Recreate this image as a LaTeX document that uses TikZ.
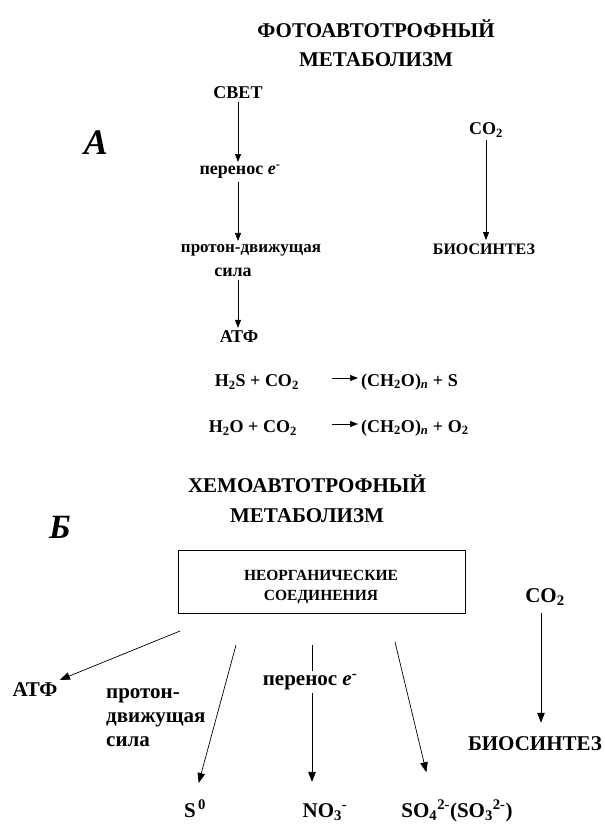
\documentclass[tikz,border=0pt]{standalone}
\usepackage{fontspec}
\setmainfont{Liberation Serif}
\usetikzlibrary{arrows.meta}
\newcommand{\fsz}[1]{\fontsize{#1}{#1}\selectfont\bfseries}
\newcommand{\dn}[1]{\textsubscript{#1}}
\newcommand{\up}[1]{\textsuperscript{#1}}

\begin{document}
\begin{tikzpicture}[x=1pt,y=-1pt,
	lbl/.style={font=\fsz{18}, inner sep=3pt},
	lbb/.style={font=\fsz{21}, inner sep=3pt},
	ttl/.style={font=\fsz{21}},
	arr/.style={-{Triangle[length=8pt,width=6pt]}, line width=0.7pt},
	arb/.style={-{Triangle[length=10pt,width=7.5pt]}, line width=0.7pt}]
	\useasboundingbox (0,0) rectangle (605,825);

	% фотоавтотрофный метаболизм
	\node[ttl] (t1) at (376,29) {ФОТОАВТОТРОФНЫЙ};
	\node[ttl] (t2) at (376,60) {МЕТАБОЛИЗМ};
	\node[font=\fsz{36}\itshape] (la) at (96,143) {А};
	\node[lbl] (svet) at (238,93) {СВЕТ};
	\node[lbl] (pe1) at (240,172) {перенос \textit{e}\up{-}};
	\node[lbl, font=\fsz{17}] (pd1) at (251,250) {протон-движущая};
	\node[lbl] (sila1) at (233,272) {сила};
	\node[lbl] (atf1) at (239,337) {АТФ};
	\draw[arr] (svet.south) -- (svet.south |- pe1.north);
	\draw[arr] (svet.south |- pe1.south) -- (svet.south |- pd1.north);
	\draw[arr] (svet.south |- sila1.south) -- (svet.south |- atf1.north);

	\node[lbl] (co2a) at (486,130) {CO\dn{2}};
	\node[font=\fsz{16}] (bio1) at (484,249) {БИОСИНТЕЗ};
	\draw[arr] (co2a) -- (co2a |- bio1.north);

	\node[lbl, anchor=east] (r1l) at (302,382) {H\dn{2}S + CO\dn{2}};
	\node[lbl, anchor=west] (r1r) at (358,382) {(CH\dn{2}O)\dn{\textit{n}} + S};
	\node[lbl, anchor=east] (r2l) at (300,428) {H\dn{2}O + CO\dn{2}};
	\node[lbl, anchor=west] (r2r) at (358,428) {(CH\dn{2}O)\dn{\textit{n}} + O\dn{2}};
	\draw[arr] ([xshift=30pt,yshift=4pt]r1l.east) -- ([yshift=4pt]r1r.west);
	\draw[arr] ([xshift=32pt,yshift=4pt]r2l.east) -- ([yshift=4pt]r2r.west);

	% хемоавтотрофный метаболизм
	\node[ttl] (t3) at (307,484) {ХЕМОАВТОТРОФНЫЙ};
	\node[ttl] (t4) at (307,516) {МЕТАБОЛИЗМ};
	\node[font=\fsz{34}\itshape] (lb) at (60,527) {Б};
	\node[draw, line width=0.7pt, minimum width=287pt, minimum height=63pt] (box) at (321.5,581.5) {};
	\node[align=center, font=\fsz{15.5}\linespread{1.35}\selectfont] (boxtxt) at (321,587)
		{НЕОРГАНИЧЕСКИЕ\\СОЕДИНЕНИЯ};

	\node[lbb] (co2b) at (545,597) {CO\dn{2}};
	\node[lbb] (bio2) at (535,744) {БИОСИНТЕЗ};
	\draw[arb, shorten <=4pt, shorten >=11pt] (co2b.south -| 541,0) -- (bio2.north -| 541,0);

	\node[lbb] (atf2) at (35,690) {АТФ};
	\node[lbb, align=left, anchor=north west, font=\fsz{21}\linespread{1.15}\selectfont] (pd2) at (103,685) {протон-\\движущая\\сила};
	\node[lbb, anchor=base] (s0) at (195,817) {S\up{\,0}};
	\node[lbb, anchor=base] (no3) at (325,817) {NO\dn{3}\up{-}};
	\node[lbb, anchor=base] (so4) at (457,817) {SO\dn{4}\up{2-}(SO\dn{3}\up{2-})};

	\coordinate (o1) at (180,631);
	\coordinate (o2) at (236,645);
	\coordinate (o3) at (312,645);
	\coordinate (o4) at (395,642);
	\draw[arb] (o1) -- (atf2);
	\draw[arb, shorten >=14pt] (o2) -- (s0.north);
	\draw[arb, shorten >=18pt] (o3) -- (o3 |- no3.north);
	\draw[arb, shorten >=25pt] (o4) -- ([xshift=34pt]so4.north west);
	\node[lbb, fill=white] (pe2) at (310,682) {перенос \textit{e}\up{-}};
\end{tikzpicture}
\end{document}
